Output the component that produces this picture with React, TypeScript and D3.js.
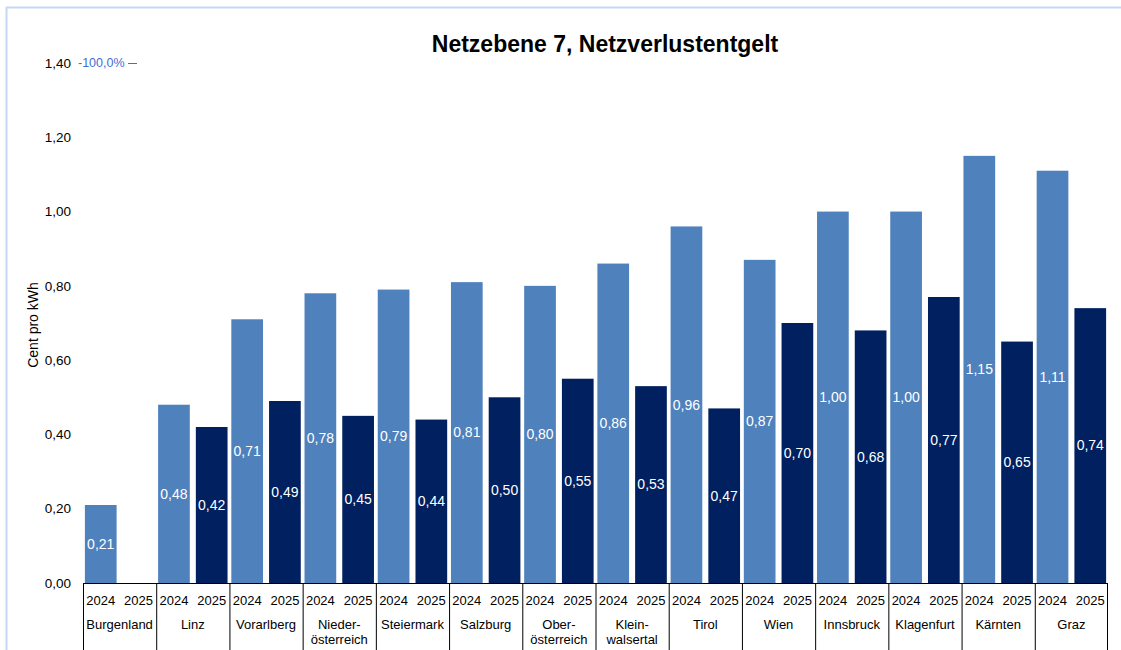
import React from "react";
import * as d3 from "d3";

const regions = [
  "Burgenland", "Linz", "Vorarlberg", "Nieder-\nösterreich", "Steiermark", "Salzburg",
  "Ober-\nösterreich", "Klein-\nwalsertal", "Tirol", "Wien", "Innsbruck", "Klagenfurt",
  "Kärnten", "Graz",
];
const years = ["2024", "2025"];
const values2024 = [0.21, 0.48, 0.71, 0.78, 0.79, 0.81, 0.8, 0.86, 0.96, 0.87, 1.0, 1.0, 1.15, 1.11];
const values2025 = [null, 0.42, 0.49, 0.45, 0.44, 0.5, 0.55, 0.53, 0.47, 0.7, 0.68, 0.77, 0.65, 0.74];
const yTicks = [0, 0.2, 0.4, 0.6, 0.8, 1.0, 1.2, 1.4];

const colors = { "2024": "#4f81bd", "2025": "#002060" };
const font = "Liberation Sans, Arial, sans-serif";
const fmt = (v: number) => v.toFixed(2).replace(".", ",");

const App = () => {
  const width = 1121;
  const height = 650;
  const margin = { top: 63, right: 13, bottom: 67, left: 83 };
  const plotW = width - margin.left - margin.right;
  const plotH = height - margin.top - margin.bottom;

  const x0 = d3.scaleBand().domain(regions).range([0, plotW]).padding(0);
  const x1 = d3.scaleBand().domain(years).range([0, x0.bandwidth()]).paddingInner(0.16).paddingOuter(0.05);
  const y = d3.scaleLinear().domain([0, 1.4]).range([plotH, 0]);

  const series = [
    { year: "2024", vals: values2024 },
    { year: "2025", vals: values2025 },
  ];

  return (
    <svg width={width} height={height} style={{ position: "absolute", left: 0, top: 0, background: "#fff" }} fontFamily={font}>
      {/* frame */}
      <line x1={6.5} y1={7} x2={6.5} y2={height} stroke="#c6d6f7" strokeWidth={2} />
      <line x1={6} y1={7.5} x2={width} y2={7.5} stroke="#c6d6f7" strokeWidth={2} />

      <text x={605} y={52} textAnchor="middle" fontSize={23} fontWeight="bold" fill="#000">
        Netzebene 7, Netzverlustentgelt
      </text>

      <text transform={`translate(38, ${margin.top + plotH / 2 + 2}) rotate(-90)`} textAnchor="middle" fontSize={14} fill="#000">
        Cent pro kWh
      </text>

      <g transform={`translate(${margin.left}, ${margin.top})`}>
        {yTicks.map((t) => (
          <text key={t} x={-12} y={y(t)} dy="0.35em" textAnchor="end" fontSize={13.5} fill="#000">
            {fmt(t)}
          </text>
        ))}
        <text x={-5} y={y(1.4)} dy="0.35em" fontSize={12.5} fill="#3f6fd6">
          -100,0%
        </text>
        <line x1={45} x2={54} y1={y(1.4) + 0.5} y2={y(1.4) + 0.5} stroke="#3f6fd6" strokeWidth={1} />

        {series.map((s) =>
          s.vals.map((v, i) => {
            if (v == null) return null;
            const bx = (x0(regions[i]) ?? 0) + (x1(s.year) ?? 0);
            const bw = x1.bandwidth();
            return (
              <g key={s.year + i}>
                <rect x={bx} y={y(v)} width={bw} height={plotH - y(v)} fill={colors[s.year]} />
                <text x={bx + bw / 2} y={(y(v) + plotH) / 2} dy="0.35em" textAnchor="middle" fontSize={14} fill="#fff">
                  {fmt(v)}
                </text>
              </g>
            );
          })
        )}

        {/* category axis */}
        <line x1={0} x2={plotW} y1={plotH + 0.5} y2={plotH + 0.5} stroke="#000" />
        {regions.map((r, i) => {
          const gx = x0(r) ?? 0;
          const lines = r.split("\n");
          return (
            <g key={r}>
              <line x1={gx + 0.5} x2={gx + 0.5} y1={plotH} y2={height - margin.top} stroke="#000" />
              {years.map((yr) => (
                <text key={yr} x={gx + (x1(yr) ?? 0) + x1.bandwidth() / 2} y={plotH + 22} textAnchor="middle" fontSize={13} fill="#000">
                  {yr}
                </text>
              ))}
              {lines.map((l, k) => (
                <text key={k} x={gx + x0.bandwidth() / 2} y={plotH + 46 + k * 15} textAnchor="middle" fontSize={13} fill="#000">
                  {l}
                </text>
              ))}
              {i === regions.length - 1 && (
                <line x1={plotW - 0.5} x2={plotW - 0.5} y1={plotH} y2={height - margin.top} stroke="#000" />
              )}
            </g>
          );
        })}
      </g>
    </svg>
  );
};

export default App;
